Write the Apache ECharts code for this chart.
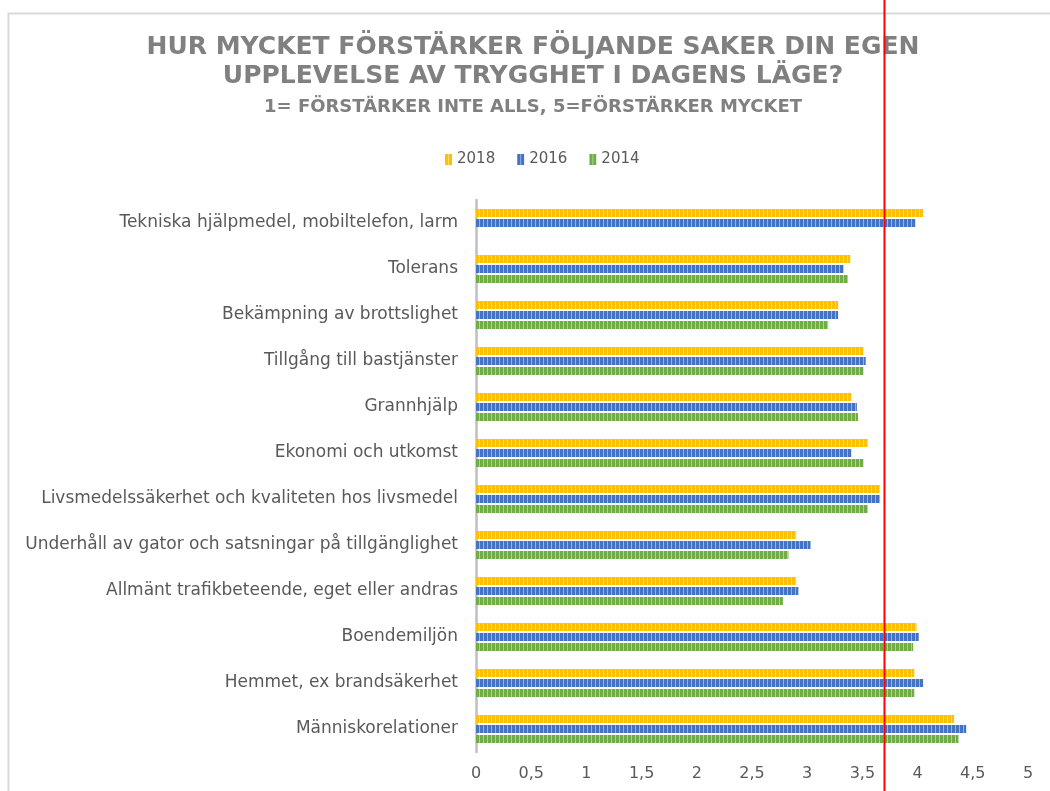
<!DOCTYPE html>
<html>
<head>
<meta charset="utf-8">
<script src="https://cdn.jsdelivr.net/npm/echarts@6/dist/echarts.min.js"></script>
<style>html,body{margin:0;padding:0;background:#fff}#chart{width:1050px;height:791px}</style>
</head>
<body>
<div id="chart"></div>
<script>
const titleLines = ['HUR MYCKET FÖRSTÄRKER FÖLJANDE SAKER DIN EGEN', 'UPPLEVELSE AV TRYGGHET I DAGENS LÄGE?'];
const subtitle = '1= FÖRSTÄRKER INTE ALLS, 5=FÖRSTÄRKER MYCKET';
const categories = [
  'Tekniska hjälpmedel, mobiltelefon, larm',
  'Tolerans',
  'Bekämpning av brottslighet',
  'Tillgång till bastjänster',
  'Grannhjälp',
  'Ekonomi och utkomst',
  'Livsmedelssäkerhet och kvaliteten hos livsmedel',
  'Underhåll av gator och satsningar på tillgänglighet',
  'Allmänt trafikbeteende, eget eller andras',
  'Boendemiljön',
  'Hemmet, ex brandsäkerhet',
  'Människorelationer'
];
const seriesNames = ['2018', '2016', '2014'];
const v2018 = [4.05, 3.39, 3.28, 3.51, 3.40, 3.55, 3.66, 2.90, 2.90, 3.99, 3.97, 4.33];
const v2016 = [3.98, 3.33, 3.28, 3.53, 3.45, 3.40, 3.66, 3.03, 2.92, 4.01, 4.05, 4.44];
const v2014 = [null, 3.37, 3.19, 3.51, 3.46, 3.51, 3.55, 2.83, 2.78, 3.96, 3.97, 4.37];
const referenceValue = 3.70;
const colors = ['#FFC000', '#4472C4', '#70AD47'];

function makePattern(color) {
  const c = document.createElement('canvas');
  c.width = 4; c.height = 4;
  const ctx = c.getContext('2d');
  ctx.fillStyle = color; ctx.fillRect(0, 0, 4, 4);
  ctx.fillStyle = 'rgba(255,255,255,0.45)'; ctx.fillRect(3, 0, 1, 4);
  return { image: c, repeat: 'repeat' };
}

const chart = echarts.init(document.getElementById('chart'), null, { renderer: 'canvas' });
const dataSets = [v2018, v2016, v2014];
const centerX = 533;
const option = {
  animation: false,
  backgroundColor: '#fff',
  legend: {
    data: seriesNames,
    left: 440, top: 147,
    itemWidth: 7, itemHeight: 11, itemGap: 22,
    icon: 'rect',
    textStyle: { fontFamily: 'DejaVu Sans', fontSize: 15, color: '#595959' }
  },
  grid: { left: 476, right: 22, top: 200, bottom: 39, containLabel: false },
  xAxis: {
    type: 'value', min: 0, max: 5, interval: 0.5,
    axisLine: { show: false }, axisTick: { show: false }, splitLine: { show: false },
    axisLabel: {
      margin: 14, fontFamily: 'DejaVu Sans', fontSize: 16, color: '#595959',
      formatter: v => String(v).replace('.', ',')
    }
  },
  yAxis: {
    type: 'category', data: categories, inverse: true,
    axisLine: { lineStyle: { color: '#bfbfbf', width: 2.5 } },
    axisTick: { show: false },
    axisLabel: { margin: 18, fontFamily: 'DejaVu Sans', fontSize: 17, color: '#595959' }
  },
  series: seriesNames.map((name, i) => ({
    name, type: 'bar', data: dataSets[i],
    barWidth: 8, barGap: '25%', barCategoryGap: '39%',
    itemStyle: { color: makePattern(colors[i]) }
  })),
  graphic: [
    { type: 'rect', shape: { x: 8.5, y: 13.5, width: 1100, height: 900 }, style: { fill: 'none', stroke: '#d9d9d9', lineWidth: 2 }, silent: true },
    { type: 'text', x: centerX, y: 47, style: { text: titleLines[0], font: 'bold 25px "DejaVu Sans"', fill: '#808080', align: 'center', verticalAlign: 'middle' } },
    { type: 'text', x: centerX, y: 76, style: { text: titleLines[1], font: 'bold 25px "DejaVu Sans"', fill: '#808080', align: 'center', verticalAlign: 'middle' } },
    { type: 'text', x: centerX, y: 107, style: { text: subtitle, font: 'bold 18px "DejaVu Sans"', fill: '#808080', align: 'center', verticalAlign: 'middle' } }
  ]
};
chart.setOption(option);
const refX = chart.convertToPixel({ xAxisIndex: 0 }, referenceValue);
chart.setOption({
  graphic: option.graphic.concat([
    { type: 'line', shape: { x1: refX, y1: 0, x2: refX, y2: 791 }, style: { stroke: '#ff0000', lineWidth: 2 }, z: 100 }
  ])
});
</script>
</body>
</html>
